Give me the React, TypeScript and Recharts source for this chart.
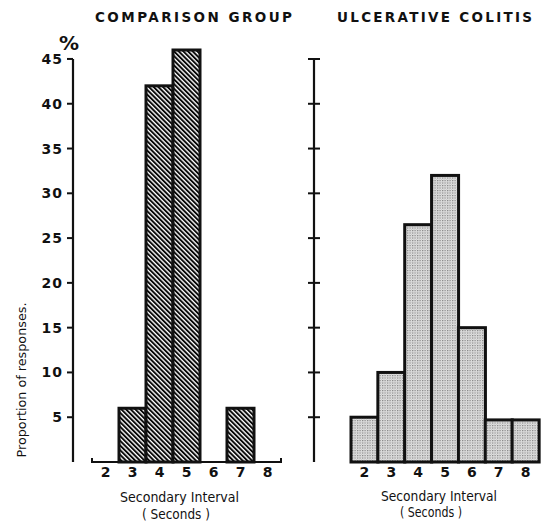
import React from 'react';
import { BarChart, Bar, XAxis, YAxis, ReferenceLine } from 'recharts';

// ---- data ----
const intervals = ['2', '3', '4', '5', '6', '7', '8'];
const comparisonValues = [0, 6, 42, 46, 0, 6, 0];
const colitisValues = [5, 10, 26.5, 32, 15, 4.7, 4.7];
const yTicks = [5, 10, 15, 20, 25, 30, 35, 40, 45];
const axisTop = 45;
const leftYMax = 46;
const rightYMax = 45;

const comparisonData = intervals.map((k, i) => ({ interval: k, value: comparisonValues[i] }));
const colitisData = intervals.map((k, i) => ({ interval: k, value: colitisValues[i] }));

const FONT = '"DejaVu Sans", "Liberation Sans", sans-serif';
const INK = '#111';

function HistShape(props: any) {
  const { x, y, width, height, index, fillId, count, drawBase } = props;
  const base = y + height;
  const els: any[] = [];
  if (height > 0.5) {
    els.push(
      <rect key="r" x={x} y={y} width={width} height={height} fill={`url(#${fillId})`} stroke={INK} strokeWidth={3} />
    );
  } else if (drawBase) {
    els.push(<line key="b" x1={x} x2={x + width} y1={base} y2={base} stroke={INK} strokeWidth={2} />);
  }
  if (drawBase && index === 0) {
    els.push(<line key="s" x1={x} x2={x} y1={base + 1} y2={base - 4} stroke={INK} strokeWidth={2} />);
  }
  if (drawBase && index === count - 1) {
    els.push(<line key="e" x1={x + width} x2={x + width} y1={base + 1} y2={base - 4} stroke={INK} strokeWidth={2} />);
  }
  return <g>{els}</g>;
}

const LeftTick = (props: any) => {
  const { x, y, payload } = props;
  return (
    <text x={x} y={y} dy={5} textAnchor="end" fontFamily={FONT} fontWeight="bold" fontSize={14} letterSpacing={1} fill={INK}>
      {payload.value}
    </text>
  );
};

const CrossTick = (props: any) => {
  const { x, y } = props;
  return <line x1={x - 6} x2={x + 6} y1={y} y2={y} stroke={INK} strokeWidth={2} />;
};

const xTickStyle = { fontFamily: FONT, fontWeight: 'bold', fontSize: 14, fill: INK } as any;

export default function App() {
  return (
    <div style={{ position: 'fixed', left: 0, top: 0, width: 544, height: 521, background: '#fff', overflow: 'hidden' }}>
      <svg width={0} height={0} style={{ position: 'absolute' }}>
        <defs>
          <pattern id="hatch" patternUnits="userSpaceOnUse" width={3.3} height={3.3} patternTransform="rotate(-45)">
            <rect width={3.3} height={3.3} fill="#fff" />
            <line x1={1} y1={0} x2={1} y2={3.3} stroke="#000" strokeWidth={1.9} />
          </pattern>
          <pattern id="stipple" patternUnits="userSpaceOnUse" width={2.5} height={2.5}>
            <rect width={2.5} height={2.5} fill="#e2e2e2" />
            <circle cx={0.7} cy={0.7} r={0.6} fill="#5a5a5a" />
            <circle cx={1.95} cy={1.95} r={0.35} fill="#999" />
          </pattern>
        </defs>
      </svg>

      <div style={{ position: 'absolute', left: 0, top: 0 }}>
        <BarChart width={290} height={521} data={comparisonData} margin={{ top: 50, right: 9, bottom: 29, left: 0 }} barCategoryGap={0} barGap={0}>
          <XAxis dataKey="interval" padding={{ left: 19, right: 0 }} axisLine={false} tickLine={false} tickSize={0} tickMargin={5} tick={xTickStyle} height={30} interval={0} />
          <XAxis xAxisId="frame" type="number" domain={[0, 1]} hide />
          <YAxis width={73} domain={[0, leftYMax]} ticks={yTicks} axisLine={false} tickLine={{ stroke: INK, strokeWidth: 2 }} tickSize={6} tickMargin={4} tick={<LeftTick />} interval={0} />
          <ReferenceLine xAxisId="frame" segment={[{ x: 0, y: 0 }, { x: 0, y: axisTop }]} stroke={INK} strokeWidth={2.2} ifOverflow="visible" />
          <Bar dataKey="value" isAnimationActive={false} shape={(p: any) => <HistShape {...p} fillId="hatch" count={intervals.length} drawBase />} />
        </BarChart>
      </div>

      <div style={{ position: 'absolute', left: 272, top: 0 }}>
        <BarChart width={272} height={521} data={colitisData} margin={{ top: 59, right: 5, bottom: 29, left: 0 }} barCategoryGap={0} barGap={0}>
          <XAxis dataKey="interval" padding={{ left: 37, right: 0 }} axisLine={false} tickLine={false} tickSize={0} tickMargin={5} tick={xTickStyle} height={30} interval={0} />
          <YAxis width={42} domain={[0, rightYMax]} ticks={yTicks} axisLine={{ stroke: INK, strokeWidth: 2.2 }} tickLine={false} tickSize={0} tickMargin={0} tick={<CrossTick />} interval={0} />
          <Bar dataKey="value" isAnimationActive={false} shape={(p: any) => <HistShape {...p} fillId="stipple" count={intervals.length} drawBase={false} />} />
        </BarChart>
      </div>

      <svg width={544} height={521} style={{ position: 'absolute', left: 0, top: 0, pointerEvents: 'none' }}>
        <text x={95} y={22} fontFamily={FONT} fontWeight="bold" fontSize={13.5} fill={INK} textLength={197} lengthAdjust="spacing">COMPARISON GROUP</text>
        <text x={337} y={22} fontFamily={FONT} fontWeight="bold" fontSize={13.5} fill={INK} textLength={195} lengthAdjust="spacing">ULCERATIVE COLITIS</text>
        <text x={69} y={50} textAnchor="middle" fontFamily={FONT} fontWeight="bold" fontSize={20} fill={INK}>%</text>
        <text transform="translate(26,380) rotate(-90)" x={0} y={0} textAnchor="middle" fontFamily={FONT} fontSize={12.5} fill={INK} textLength={155} lengthAdjust="spacingAndGlyphs">Proportion of responses.</text>
        <text x={179.5} y={502} textAnchor="middle" fontFamily={FONT} fontSize={14} fill={INK} textLength={119} lengthAdjust="spacingAndGlyphs">Secondary Interval</text>
        <text x={176} y={519} textAnchor="middle" fontFamily={FONT} fontSize={14} fill={INK} textLength={68} lengthAdjust="spacingAndGlyphs">( Seconds )</text>
        <text x={439} y={501} textAnchor="middle" fontFamily={FONT} fontSize={14} fill={INK} textLength={116} lengthAdjust="spacingAndGlyphs">Secondary Interval</text>
        <text x={431} y={517} textAnchor="middle" fontFamily={FONT} fontSize={14} fill={INK} textLength={62} lengthAdjust="spacingAndGlyphs">( Seconds )</text>
      </svg>
    </div>
  );
}
